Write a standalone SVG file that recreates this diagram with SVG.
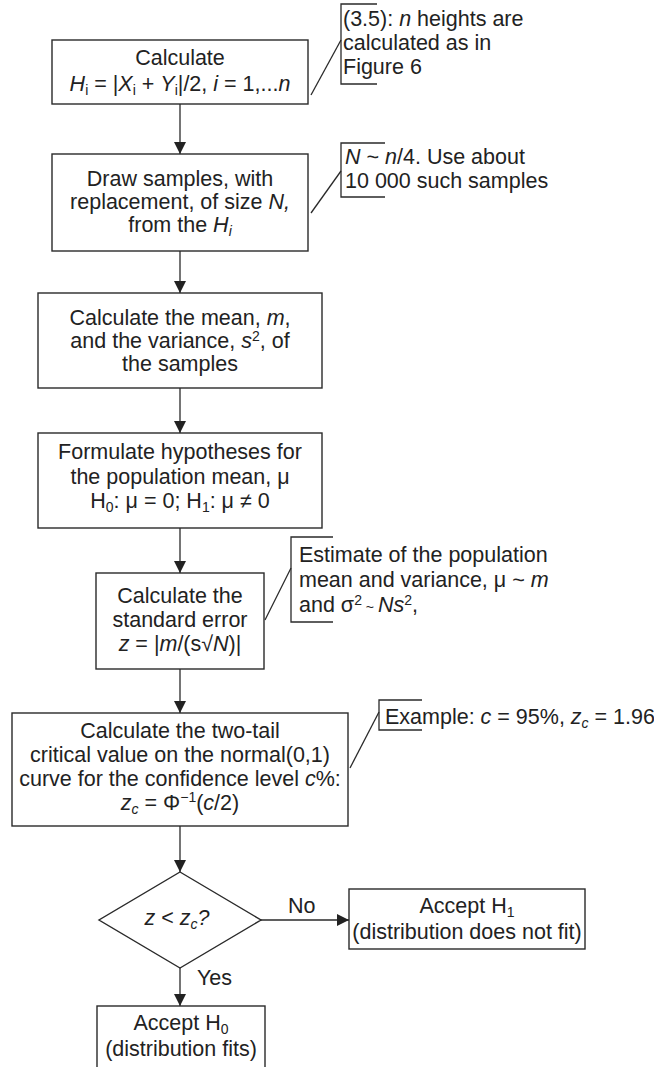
<svg xmlns="http://www.w3.org/2000/svg" width="654" height="1067" viewBox="0 0 654 1067">
<style>
text{font-family:"Liberation Sans",Arial,Helvetica,sans-serif;font-size:21.5px;fill:#222}
.c{text-anchor:middle}
.i{font-style:italic}
.s{font-size:14px}
.box{fill:#fff;stroke:#2a2a2a;stroke-width:1.4}
.ln{fill:none;stroke:#2a2a2a;stroke-width:1.3}
</style>
<defs>
<marker id="ah" viewBox="0 0 12 12" refX="12" refY="6" markerWidth="12" markerHeight="12" markerUnits="userSpaceOnUse" orient="auto">
<path d="M0,0 L12,6 L0,12 z" fill="#222"/>
</marker>
</defs>
<rect width="654" height="1067" fill="#fff"/>

<g id="connectors">
<line class="ln" x1="180" y1="104" x2="180" y2="154" marker-end="url(#ah)"/>
<line class="ln" x1="180" y1="251" x2="180" y2="293" marker-end="url(#ah)"/>
<line class="ln" x1="180" y1="388" x2="180" y2="433" marker-end="url(#ah)"/>
<line class="ln" x1="180" y1="528" x2="180" y2="573" marker-end="url(#ah)"/>
<line class="ln" x1="180" y1="669" x2="180" y2="713" marker-end="url(#ah)"/>
<line class="ln" x1="180" y1="826" x2="180" y2="872" marker-end="url(#ah)"/>
<line class="ln" x1="180" y1="968" x2="180" y2="1006" marker-end="url(#ah)"/>
<line class="ln" x1="261" y1="920" x2="349" y2="920" marker-end="url(#ah)"/>
<text x="288" y="913">No</text>
<text x="197" y="985">Yes</text>
<line class="ln" x1="311" y1="95" x2="341" y2="40"/>
<line class="ln" x1="311" y1="213" x2="341" y2="171"/>
<line class="ln" x1="265" y1="620" x2="291" y2="568"/>
<line class="ln" x1="350" y1="768" x2="379" y2="712"/>
</g>

<g id="n1">
<rect class="box" x="52" y="40" width="256" height="64"/>
<text class="c" x="180" y="65">Calculate</text>
<text class="c" x="180" y="91"><tspan class="i">H</tspan><tspan class="s" dy="4">i</tspan><tspan dy="-4"> = |</tspan><tspan class="i">X</tspan><tspan class="s" dy="4">i</tspan><tspan dy="-4"> + </tspan><tspan class="i">Y</tspan><tspan class="s" dy="4">i</tspan><tspan dy="-4">|/2, </tspan><tspan class="i">i</tspan><tspan> = 1,...</tspan><tspan class="i">n</tspan></text>
</g>

<g id="n2">
<rect class="box" x="52" y="154" width="256" height="97"/>
<text class="c" x="180" y="186">Draw samples, with</text>
<text class="c" x="180" y="209">replacement, of size <tspan class="i">N,</tspan></text>
<text class="c" x="180" y="232">from the <tspan class="i">H</tspan><tspan class="s i" dy="4">i</tspan></text>
</g>

<g id="n3">
<rect class="box" x="38" y="293" width="284" height="95"/>
<text class="c" x="180" y="325">Calculate the mean, <tspan class="i">m</tspan>,</text>
<text class="c" x="180" y="348">and the variance, <tspan class="i">s</tspan><tspan class="s" dy="-7">2</tspan><tspan dy="7">, of</tspan></text>
<text class="c" x="180" y="371">the samples</text>
</g>

<g id="n4">
<rect class="box" x="38" y="433" width="284" height="95"/>
<text class="c" x="180" y="459">Formulate hypotheses for</text>
<text class="c" x="180" y="484">the population mean, μ</text>
<text class="c" x="180" y="508">H<tspan class="s" dy="4">0</tspan><tspan dy="-4">: μ = 0; H</tspan><tspan class="s" dy="4">1</tspan><tspan dy="-4">: μ ≠ 0</tspan></text>
</g>

<g id="n5">
<rect class="box" x="96" y="573" width="168" height="96"/>
<text class="c" x="180" y="603">Calculate the</text>
<text class="c" x="180" y="627">standard error</text>
<text class="c" x="180" y="651"><tspan class="i">z</tspan> = |<tspan class="i">m</tspan>/(s√<tspan class="i">N</tspan>)|</text>
</g>

<g id="n6">
<rect class="box" x="12" y="713" width="336" height="113"/>
<text class="c" x="180" y="738">Calculate the two-tail</text>
<text class="c" x="180" y="762">critical value on the normal(0,1)</text>
<text class="c" x="180" y="786">curve for the confidence level <tspan class="i">c</tspan>%:</text>
<text class="c" x="180" y="810"><tspan class="i">z</tspan><tspan class="s i" dy="4">c</tspan><tspan dy="-4"> = Φ</tspan><tspan class="s" dy="-8">−1</tspan><tspan dy="8">(</tspan><tspan class="i">c</tspan>/2)</text>
</g>

<g id="n7">
<polygon class="box" points="180,872 261,920 180,968 99,920"/>
<text class="c" x="177" y="925"><tspan class="i">z</tspan>  &lt; <tspan class="i">z</tspan><tspan class="s i" dy="4">c</tspan><tspan class="i" dy="-4">?</tspan></text>
</g>

<g id="n8">
<rect class="box" x="349" y="889" width="236" height="60"/>
<text class="c" x="467" y="913">Accept H<tspan class="s" dy="4">1</tspan></text>
<text class="c" x="467" y="939">(distribution does not fit)</text>
</g>

<g id="n9">
<rect class="box" x="97" y="1006" width="168" height="80"/>
<text class="c" x="181" y="1030">Accept H<tspan class="s" dy="4">0</tspan></text>
<text class="c" x="181" y="1056">(distribution fits)</text>
</g>

<g id="a1">
<polyline class="ln" points="377,4 341,4 341,84 377,84"/>
<text x="343" y="26">(3.5): <tspan class="i">n</tspan> heights are</text>
<text x="343" y="50">calculated as in</text>
<text x="343" y="74">Figure 6</text>
</g>

<g id="a2">
<polyline class="ln" points="385,143 341,143 341,197 385,197"/>
<text x="345" y="164"><tspan class="i">N</tspan> ~ <tspan class="i">n</tspan>/4. Use about</text>
<text x="345" y="188">10 000 such samples</text>
</g>

<g id="a3">
<polyline class="ln" points="333,537 291,537 291,622 333,622"/>
<text x="299" y="562">Estimate of the population</text>
<text x="299" y="587">mean and variance, μ ~ <tspan class="i">m</tspan></text>
<text x="299" y="612">and σ<tspan class="s" dy="-7">2</tspan><tspan class="s" dy="7"> ~ </tspan><tspan class="i">Ns</tspan><tspan class="s" dy="-7">2</tspan><tspan dy="7">,</tspan></text>
</g>

<g id="a4">
<polyline class="ln" points="422,700 379,700 379,730 422,730"/>
<text x="385" y="724">Example: <tspan class="i">c</tspan> = 95%, <tspan class="i">z</tspan><tspan class="s i" dy="4">c</tspan><tspan dy="-4"> = 1.96</tspan></text>
</g>
</svg>
